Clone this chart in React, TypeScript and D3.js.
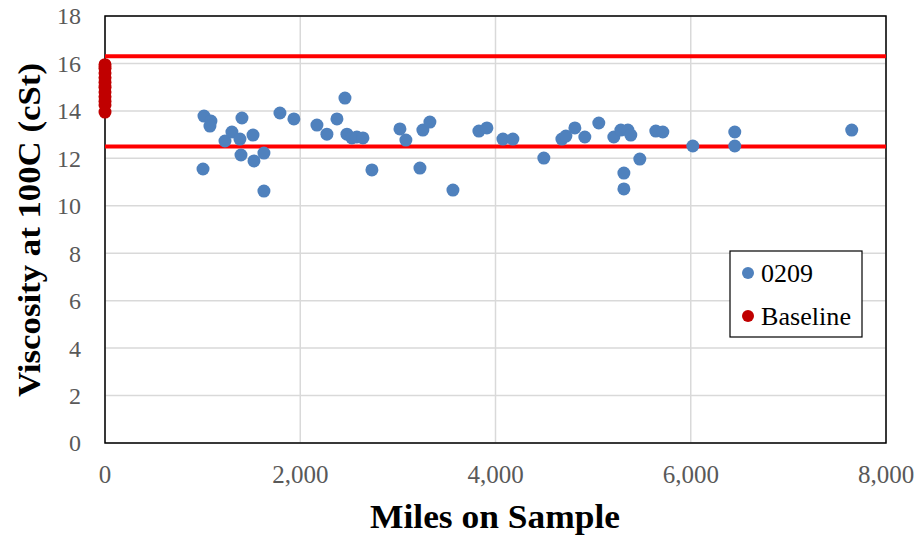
import React from "react";
import * as d3 from "d3";

const seriesName = "0209";
const baselineName = "Baseline";
const milesA = [1014, 1085, 1075, 1004, 1229, 1300, 1382, 1403, 1393, 1516, 1526, 1628, 1628, 1792, 1935, 2171, 2273, 2376, 2458, 2478, 2529, 2580, 2642, 2734, 3021, 3082, 3226, 3256, 3328, 3564, 3830, 3912, 4076, 4178, 4495, 4680, 4721, 4813, 4915, 5058, 5212, 5284, 5356, 5386, 5315, 5315, 5478, 5642, 5714, 6021, 6451, 6451, 7649];
const viscA = [13.78, 13.57, 13.36, 11.55, 12.73, 13.11, 12.81, 13.7, 12.14, 12.98, 11.89, 12.22, 10.62, 13.91, 13.66, 13.4, 13.02, 13.66, 14.54, 13.02, 12.86, 12.9, 12.86, 11.51, 13.24, 12.77, 11.59, 13.19, 13.53, 10.66, 13.15, 13.28, 12.81, 12.81, 12.01, 12.81, 12.94, 13.28, 12.9, 13.49, 12.9, 13.19, 13.19, 12.98, 11.38, 10.71, 11.97, 13.15, 13.11, 12.52, 13.11, 12.52, 13.19];
const milesB = [0, 0, 0, 0, 0, 0, 0, 0, 0, 0, 0];
const viscB = [15.95, 15.8, 15.6, 15.4, 15.2, 15.0, 14.8, 14.6, 14.4, 14.25, 13.95];
const limitLines = [16.3, 12.5];
const xTicks = [0, 2000, 4000, 6000, 8000];
const yTicks = [0, 2, 4, 6, 8, 10, 12, 14, 16, 18];
const xTitle = "Miles on Sample";
const yTitle = "Viscosity at 100C (cSt)";

export default function App() {
  const W = 917, H = 535;
  const L = 105, R = 886, T = 16, B = 443;
  const x = d3.scaleLinear().domain([0, 8000]).range([L, R]);
  const y = d3.scaleLinear().domain([0, 18]).range([B, T]);
  const fmt = d3.format(",");
  const font = "Liberation Serif, Times New Roman, Times, serif";
  return (
    <svg width={W} height={H} style={{ position: "absolute", left: 0, top: 0, background: "#fff", fontFamily: font }}>
      <rect x={0} y={0} width={W} height={H} fill="#fff" />
      {yTicks.map((t) => (
        <line key={"gy" + t} x1={L} x2={R} y1={y(t)} y2={y(t)} stroke="#d9d9d9" strokeWidth={1.5} />
      ))}
      {xTicks.map((t) => (
        <line key={"gx" + t} x1={x(t)} x2={x(t)} y1={T} y2={B} stroke="#d9d9d9" strokeWidth={1.5} />
      ))}
      <rect x={L} y={T} width={R - L} height={B - T} fill="none" stroke="#000" strokeWidth={1.5} />
      {limitLines.map((v) => (
        <line key={"lim" + v} x1={L} x2={R} y1={y(v)} y2={y(v)} stroke="#ff0000" strokeWidth={4} />
      ))}
      {milesA.map((m, i) => (
        <circle key={"a" + i} cx={x(m)} cy={y(viscA[i])} r={6.5} fill="#4f81bd" />
      ))}
      {milesB.map((m, i) => (
        <circle key={"b" + i} cx={x(m)} cy={y(viscB[i])} r={6.5} fill="#c00000" />
      ))}
      {yTicks.map((t) => (
        <text key={"ty" + t} x={L - 24} y={y(t)} dy="0.35em" textAnchor="end" fontSize={24} fill="#595959">{t}</text>
      ))}
      {xTicks.map((t) => (
        <text key={"tx" + t} x={x(t)} y={B + 22} dy="0.71em" textAnchor="middle" fontSize={25} fill="#595959">{fmt(t)}</text>
      ))}
      <text x={495} y={528} textAnchor="middle" fontSize={33} fontWeight="bold" fill="#000" textLength={250} lengthAdjust="spacingAndGlyphs">{xTitle}</text>
      <text transform={`translate(40,230) rotate(-90)`} textAnchor="middle" fontSize={31} fontWeight="bold" fill="#000" textLength={334} lengthAdjust="spacingAndGlyphs">{yTitle}</text>
      <g>
        <rect x={730} y={251} width={132} height={86} fill="#fff" stroke="#000" strokeWidth={1.2} />
        <circle cx={748} cy={273} r={6} fill="#4f81bd" />
        <text x={761} y={273} dy="0.35em" fontSize={25} fill="#000" textLength={52} lengthAdjust="spacingAndGlyphs">{seriesName}</text>
        <circle cx={748} cy={316} r={6} fill="#c00000" />
        <text x={761} y={316} dy="0.35em" fontSize={25} fill="#000" textLength={90} lengthAdjust="spacingAndGlyphs">{baselineName}</text>
      </g>
    </svg>
  );
}
